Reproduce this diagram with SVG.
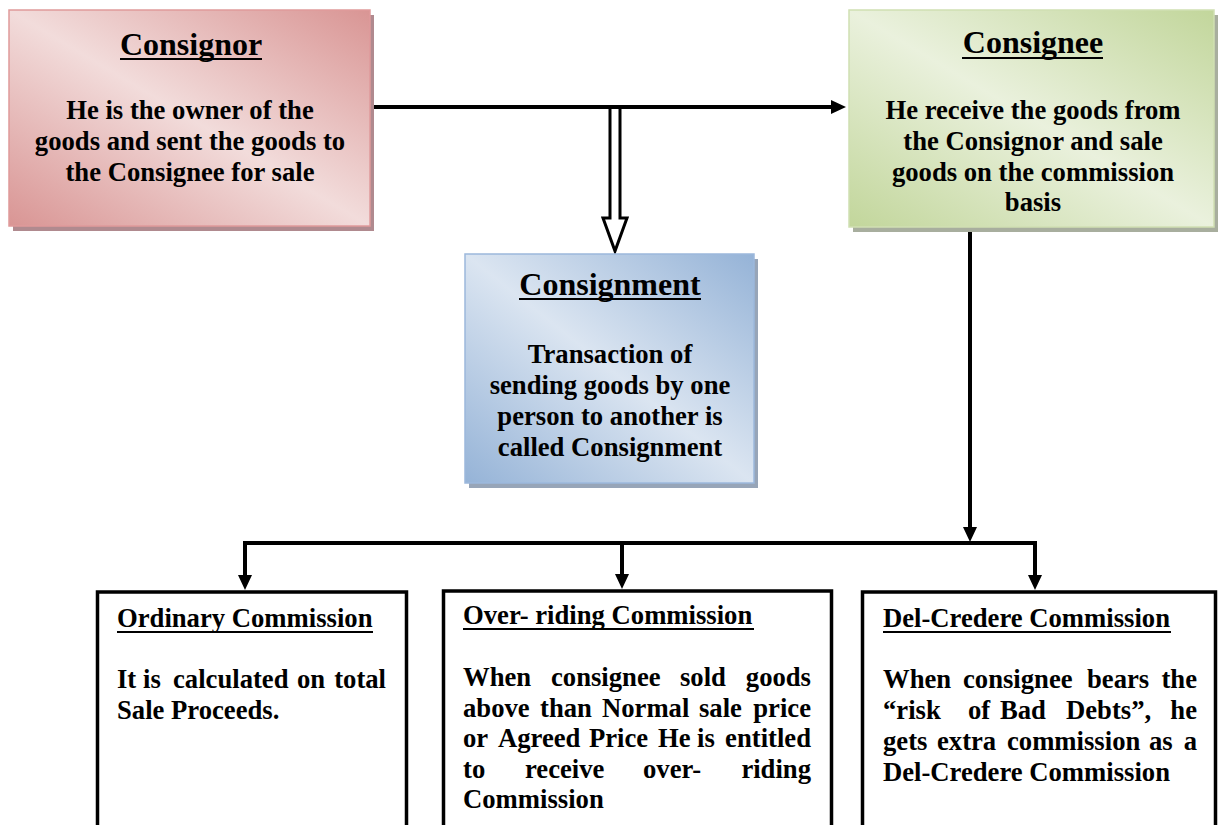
<svg xmlns="http://www.w3.org/2000/svg" width="1218" height="825" viewBox="0 0 1218 825">
<defs>
<linearGradient id="gRed" x1="0" y1="1" x2="1" y2="0">
<stop offset="0" stop-color="#d99594"/><stop offset="0.5" stop-color="#f2dcdb"/><stop offset="1" stop-color="#d99594"/>
</linearGradient>
<linearGradient id="gGreen" x1="0" y1="1" x2="1" y2="0">
<stop offset="0" stop-color="#c2d69b"/><stop offset="0.5" stop-color="#eaf1dd"/><stop offset="1" stop-color="#c2d69b"/>
</linearGradient>
<linearGradient id="gBlue" x1="0" y1="1" x2="1" y2="0">
<stop offset="0" stop-color="#95b3d7"/><stop offset="0.5" stop-color="#dbe5f1"/><stop offset="1" stop-color="#95b3d7"/>
</linearGradient>
<marker id="ah" viewBox="0 0 15 14" markerWidth="15" markerHeight="14" markerUnits="userSpaceOnUse" refX="4" refY="7" orient="auto">
<path d="M0,0 L15,7 L0,14 z" fill="#000"/>
</marker>
<style>
text{font-family:"Liberation Serif","Times New Roman",serif;font-weight:bold;fill:#000}
.title{font-size:32px;text-anchor:middle}
.body{font-size:26.67px}
.c{text-anchor:middle}
.e{text-anchor:end}
.ul{stroke:#000;stroke-width:2.2}
.ul2{stroke:#000;stroke-width:1.8}
.box{fill:#fff;stroke:#000;stroke-width:3.5}
.conn{stroke:#000;stroke-width:4;fill:none}
</style>
</defs>
<g id="connectors">
<line class="conn" x1="371" y1="107" x2="835" y2="107" marker-end="url(#ah)"/>
<path d="M610,109 V218 H603 L615,251 L627,218 H620 V109" fill="#fff" stroke="#000" stroke-width="3"/>
<line class="conn" x1="970" y1="228" x2="970" y2="531" marker-end="url(#ah)"/>
<polyline class="conn" points="245,579 245,543 1035,543 1035,579"/>
<line class="conn" x1="245" y1="545" x2="245" y2="579" marker-end="url(#ah)"/>
<line class="conn" x1="622" y1="543" x2="622" y2="578" marker-end="url(#ah)"/>
<line class="conn" x1="1035" y1="545" x2="1035" y2="579" marker-end="url(#ah)"/>
</g>
<g id="consignor">
<rect x="13" y="15" width="361" height="216" fill="#b08a8f"/>
<rect x="9" y="10" width="361" height="216" fill="url(#gRed)" stroke="#df9a9b" stroke-width="1.5"/>
<text class="title" x="191" y="55">Consignor</text>
<line class="ul" x1="120" y1="59" x2="262" y2="59"/>
<text class="body c" x="190" y="119">He is the owner of the</text>
<text class="body c" x="190" y="150">goods and sent the goods to</text>
<text class="body c" x="190" y="181">the Consignee for sale</text>
</g>
<g id="consignee">
<rect x="853" y="15" width="365" height="217" fill="#a8ae9e"/>
<rect x="849" y="10" width="365" height="217" fill="url(#gGreen)" stroke="#d0dfb3" stroke-width="1.5"/>
<text class="title" x="1033" y="53">Consignee</text>
<line class="ul" x1="962" y1="58" x2="1103" y2="58"/>
<text class="body c" x="1033" y="119">He receive the goods from</text>
<text class="body c" x="1033" y="150">the Consignor and sale</text>
<text class="body c" x="1033" y="181">goods on the commission</text>
<text class="body c" x="1033" y="211">basis</text>
</g>
<g id="consignment">
<rect x="469" y="259" width="289" height="229" fill="#97a5b8"/>
<rect x="465" y="254" width="289" height="229" fill="url(#gBlue)" stroke="#9cb8dc" stroke-width="1.5"/>
<text class="title" x="610" y="295">Consignment</text>
<line class="ul" x1="519" y1="299" x2="701" y2="299"/>
<text class="body c" x="610" y="363">Transaction of</text>
<text class="body c" x="610" y="394">sending goods by one</text>
<text class="body c" x="610" y="425">person to another is</text>
<text class="body c" x="610" y="456">called Consignment</text>
</g>
<g id="ordinary">
<rect class="box" x="97.5" y="592" width="309" height="260"/>
<text class="body" x="117" y="627">Ordinary Commission</text>
<line class="ul2" x1="117" y1="632" x2="373" y2="632"/>
<text class="body" y="688"><tspan x="117">It</tspan><tspan x="143">is</tspan><tspan x="173">calculated</tspan><tspan x="297">on</tspan><tspan x="386" text-anchor="end">total</tspan></text>
<text class="body" x="117" y="719">Sale Proceeds.</text>
</g>
<g id="overriding">
<rect class="box" x="443.5" y="591" width="388" height="260"/>
<text class="body" x="463" y="624">Over- riding Commission</text>
<line class="ul2" x1="463" y1="629" x2="754" y2="629"/>
<text class="body" y="686"><tspan x="463">When</tspan><tspan x="551">consignee</tspan><tspan x="680">sold</tspan><tspan x="811" text-anchor="end">goods</tspan></text>
<text class="body" y="717"><tspan x="463">above</tspan><tspan x="540">than</tspan><tspan x="602">Normal</tspan><tspan x="699">sale</tspan><tspan x="811" text-anchor="end">price</tspan></text>
<text class="body" y="747"><tspan x="463">or</tspan><tspan x="498">Agreed</tspan><tspan x="589">Price</tspan><tspan x="658">He</tspan><tspan x="697">is</tspan><tspan x="811" text-anchor="end">entitled</tspan></text>
<text class="body" y="778"><tspan x="463">to</tspan><tspan x="525">receive</tspan><tspan x="643">over-</tspan><tspan x="811" text-anchor="end">riding</tspan></text>
<text class="body" x="463" y="808">Commission</text>
</g>
<g id="delcredere">
<rect class="box" x="862.5" y="592" width="353" height="260"/>
<text class="body" x="883" y="627">Del-Credere Commission</text>
<line class="ul2" x1="883" y1="632" x2="1171" y2="632"/>
<text class="body" y="688"><tspan x="883">When</tspan><tspan x="963">consignee</tspan><tspan x="1087">bears</tspan><tspan x="1197" text-anchor="end">the</tspan></text>
<text class="body" y="719"><tspan x="883">“risk</tspan><tspan x="968">of</tspan><tspan x="1000">Bad</tspan><tspan x="1066">Debts”,</tspan><tspan x="1197" text-anchor="end">he</tspan></text>
<text class="body" y="750"><tspan x="883">gets</tspan><tspan x="937">extra</tspan><tspan x="1007">commission</tspan><tspan x="1149">as</tspan><tspan x="1197" text-anchor="end">a</tspan></text>
<text class="body" x="883" y="781">Del-Credere Commission</text>
</g>
</svg>
